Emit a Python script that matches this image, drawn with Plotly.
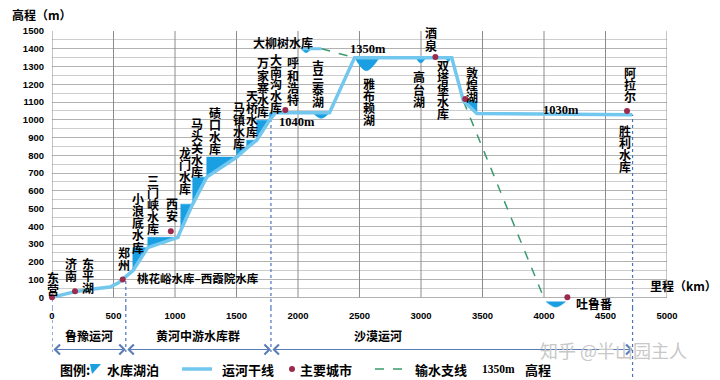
import plotly.graph_objects as go

# ---------------- data ----------------
canal_km = [0, 100, 187, 300, 400, 471, 540, 600, 657, 779, 1023, 1047, 1144, 1258, 1502,
            1583, 1664, 1769, 1818, 2256, 2460, 3250, 3345, 3455, 4716]
canal_elev = [0, 16, 32, 44, 52, 58, 82, 118, 150, 280, 338, 378, 525, 677, 790,
              840, 885, 998, 1040, 1040, 1350, 1350, 1105, 1035, 1028]

# reservoirs: dam position, bed level at dam, water level, tail position
res_dam_km = [657, 779, 1047, 1144, 1258, 1502, 1583, 1664, 1769, 3455]
res_base = [150, 280, 378, 525, 677, 790, 840, 885, 998, 1035]
res_water = [280, 338, 525, 677, 790, 840, 885, 998, 1040, 1105]
res_tail_km = [779, 1023, 1144, 1258, 1502, 1583, 1664, 1769, 1818, 3345]

# lakes (lens shapes)
lake_left = [2027, 2119, 2462, 2958, 3200, 4015]
lake_mid = [2065, 2189, 2554, 2998, 3222, 4095]
lake_right = [2108, 2256, 2662, 3040, 3245, 4178]
lake_top = [1400, 1040, 1350, 1350, 1350, -24]
lake_bottom = [1378, 1008, 1276, 1320, 1328, -55]

# short Daliushu segment and water-transfer branches
daliushu_km = [2027, 2190]
daliushu_elev = [1400, 1400]
branch1_km = [2190, 2460]
branch1_elev = [1400, 1350]
branch2_km = [3345, 4000]
branch2_elev = [1105, -5]

city_names = ['东营', '济南', '郑州', '西安', '呼和浩特', '酒泉', '敦煌', '阿拉尔', '吐鲁番']
city_km = [0, 187, 575, 966, 1897, 3117, 3360, 4675, 4190]
city_elev = [0, 34, 101, 372, 1055, 1354, 1117, 1050, 0]

# vertical (stacked) labels: text, km, elevation of first character
vlabel_text = ['东营', '济南', '东平湖', '郑州', '小浪底水库', '三门峡水库', '西安', '龙门水库',
               '马头关水库', '碛口水库', '马镇水库', '天桥水库', '万家寨水库', '大南沟水库',
               '呼和浩特', '吉兰泰湖', '雅布赖湖', '高台湖', '酒泉', '双塔堡水库', '敦煌湖',
               '阿拉尔', '胜利水库']
vlabel_km = [8, 154, 292, 584, 698, 820, 974, 1080, 1177, 1323, 1518, 1623, 1713, 1818,
             1956, 2159, 2581, 2987, 3084, 3182, 3417, 4700, 4659]
vlabel_elev = [113, 192, 192, 254, 558, 660, 530, 818, 981, 1043, 1072, 1139, 1320, 1342,
               1320, 1308, 1207, 1241, 1489, 1308, 1269, 1269, 942]

# horizontal labels
hlabel_text = ['桃花峪水库–西霞院水库', '大柳树水库', '吐鲁番']
hlabel_km = [674, 1875, 4245]
hlabel_elev = [107, 1433, -34]
hlabel_anchor = ['left', 'center', 'left']

level_text = ['1040m', '1350m', '1030m']
level_km = [1989, 2573, 4137]
level_elev = [985, 1397, 1053]

# canal sections
section_names = ['鲁豫运河', '黄河中游水库群', '沙漠运河']
section_bounds = [0, 600, 1780, 4720]
divider_top = [0, 140, 1040, 1030]

x_ticks = list(range(0, 5001, 500))
y_ticks = list(range(0, 1501, 100))
y_minor = list(range(50, 1500, 100))

# ---------------- style ----------------
CJK = 'Noto Sans CJK SC'
NUM = 'Liberation Sans'
SERIF = 'Liberation Serif'
CANAL = '#72c7ee'
WATER = '#1a9fe3'
CITY = '#9b2a4c'
BRANCH = '#3a9a6e'
DIV = '#4a72c0'
GRID_MAJ = '#b2b2b2'
GRID_MIN = '#cdcdcd'
GRID_V = '#8c8c8c'

W, H = 720, 380
ML, MR, MT, MB = 52, 53, 31, 72
PW, PH = W - ML - MR, H - MT - MB


def px_x(p):
    return (p - ML) / PW


def px_y(p):
    return (H - MB - p) / PH


fig = go.Figure()

# vertical grid lines (0..1500 only)
gx, gy = [], []
for t in x_ticks:
    gx += [t, t, None]
    gy += [0, 1500, None]
fig.add_trace(go.Scatter(x=gx, y=gy, mode='lines', line=dict(color=GRID_V, width=1),
                         hoverinfo='skip', showlegend=False))

# dividers inside plot
for k, top in zip(section_bounds, divider_top):
    fig.add_trace(go.Scatter(x=[k, k], y=[-60, top], mode='lines',
                             line=dict(color=DIV, width=1.2, dash='dot'),
                             hoverinfo='skip', showlegend=False))

# reservoirs
for d, b, w, t in zip(res_dam_km, res_base, res_water, res_tail_km):
    fig.add_trace(go.Scatter(x=[d, d, t, d], y=[b, w, w, b], mode='lines', fill='toself',
                             fillcolor=WATER, line=dict(color=WATER, width=0.5),
                             hoverinfo='skip', showlegend=False))

# lakes
for l, m, r, tp, bt in zip(lake_left, lake_mid, lake_right, lake_top, lake_bottom):
    fig.add_trace(go.Scatter(x=[l, m, r], y=[tp, bt, tp], mode='lines', fill='toself',
                             fillcolor=WATER, line=dict(color=WATER, width=0.5, shape='spline'),
                             hoverinfo='skip', showlegend=False))

# branches
for bx, by in [(branch1_km, branch1_elev), (branch2_km, branch2_elev)]:
    fig.add_trace(go.Scatter(x=bx, y=by, mode='lines',
                             line=dict(color=BRANCH, width=1.5, dash='dash'),
                             hoverinfo='skip', showlegend=False))

# canal main line
fig.add_trace(go.Scatter(x=daliushu_km, y=daliushu_elev, mode='lines',
                         line=dict(color=CANAL, width=3), hoverinfo='skip', showlegend=False))
fig.add_trace(go.Scatter(x=canal_km, y=canal_elev, mode='lines',
                         line=dict(color=CANAL, width=3.5), hoverinfo='skip', showlegend=False))

# cities
fig.add_trace(go.Scatter(x=city_km, y=city_elev, mode='markers', text=city_names,
                         marker=dict(color=CITY, size=6), cliponaxis=False,
                         hoverinfo='text', showlegend=False))

ann = []
lab_font = dict(family=CJK, size=12, color='black', weight='bold')

for txt, k, e in zip(vlabel_text, vlabel_km, vlabel_elev):
    for i, ch in enumerate(txt):
        ann.append(dict(x=k, y=e, xref='x', yref='y', text=ch, showarrow=False,
                        yshift=-i * 12.2, xanchor='center', yanchor='middle', font=lab_font))

for txt, k, e, a in zip(hlabel_text, hlabel_km, hlabel_elev, hlabel_anchor):
    ann.append(dict(x=k, y=e, xref='x', yref='y', text=txt, showarrow=False,
                    xanchor=a, yanchor='middle',
                    font=dict(family=CJK, size=11.5 if len(txt) > 6 else 12, color='black', weight='bold')))

for txt, k, e in zip(level_text, level_km, level_elev):
    ann.append(dict(x=k, y=e, xref='x', yref='y', text=txt, showarrow=False,
                    xanchor='center', yanchor='middle',
                    font=dict(family=SERIF, size=12.5, color='black', weight='bold')))

# axis titles
ann.append(dict(x=px_x(10), y=px_y(14), xref='paper', yref='paper', text='高程（m）',
                showarrow=False, xanchor='left', yanchor='middle', font=lab_font))
ann.append(dict(x=px_x(648), y=px_y(285), xref='paper', yref='paper', text='里程（km）',
                showarrow=False, xanchor='left', yanchor='middle', font=lab_font))

# section labels and brackets
shapes = []
for i, name in enumerate(section_names):
    a, b = section_bounds[i], section_bounds[i + 1]
    ann.append(dict(x=(a + b) / 2 if i < 2 else 2650, y=px_y(335), xref='x', yref='paper',
                    text=name, showarrow=False, xanchor='center', yanchor='middle', font=lab_font))
    ann.append(dict(x=b, y=px_y(349.5), xref='x', yref='paper', ax=a, ay=0,
                    axref='x', ayref='pixel', text='', showarrow=True,
                    arrowside='end+start', arrowhead=4, startarrowhead=4,
                    arrowsize=1.6, startarrowsize=1.6, arrowwidth=1.2, arrowcolor='#5b7db6',
                    standoff=0, startstandoff=0))

for k in section_bounds:
    shapes.append(dict(type='line', xref='x', yref='paper', x0=k, x1=k,
                       y0=0, y1=px_y(380 if k == section_bounds[-1] else 352),
                       line=dict(color=DIV, width=1.2, dash='dot')))

# legend
ly = px_y(369)
leg_font = dict(family=CJK, size=13, color='black', weight='bold')
for txt, p in [('图例:', 58), ('水库湖泊', 105), ('运河干线', 220), ('主要城市', 298),
               ('输水支线', 413), ('高程', 523)]:
    ann.append(dict(x=px_x(p), y=ly, xref='paper', yref='paper', text=txt, showarrow=False,
                    xanchor='left', yanchor='middle', font=leg_font))
ann.append(dict(x=px_x(480), y=ly, xref='paper', yref='paper', text='1350m', showarrow=False,
                xanchor='left', yanchor='middle',
                font=dict(family=SERIF, size=11.5, color='black', weight='bold')))

shapes.append(dict(type='path', xref='paper', yref='paper',
                   path=f'M {px_x(90)} {px_y(364)} L {px_x(101)} {px_y(364)} L {px_x(92)} {px_y(374)} Z',
                   fillcolor=WATER, line=dict(width=0)))
shapes.append(dict(type='line', xref='paper', yref='paper', x0=px_x(182), x1=px_x(212),
                   y0=ly, y1=ly, line=dict(color=CANAL, width=3.5)))
shapes.append(dict(type='circle', xref='paper', yref='paper', xsizemode='pixel',
                   ysizemode='pixel', xanchor=px_x(292), yanchor=ly, x0=-3, x1=3, y0=-3, y1=3,
                   fillcolor=CITY, line=dict(width=0)))
shapes.append(dict(type='line', xref='paper', yref='paper', x0=px_x(375), x1=px_x(407),
                   y0=ly, y1=ly, line=dict(color=BRANCH, width=1.5, dash='dash')))

# watermark
ann.append(dict(x=px_x(613), y=px_y(350), xref='paper', yref='paper', text='知乎 @半山园主人',
                showarrow=False, xanchor='center', yanchor='middle',
                font=dict(family=CJK, size=18, color='#c8c8c8')))

tick_font = dict(family=NUM, size=9.5, color='black', weight='bold')
fig.update_layout(
    width=W, height=H, margin=dict(l=ML, r=MR, t=MT, b=MB),
    plot_bgcolor='white', paper_bgcolor='white', showlegend=False,
    annotations=ann, shapes=shapes,
    xaxis=dict(range=[0, 5000], tickvals=x_ticks, showgrid=False, zeroline=False,
               showline=False, ticks='', tickfont=tick_font, automargin=False),
    yaxis=dict(range=[-60, 1500], tickvals=y_ticks, showgrid=True, gridcolor=GRID_MAJ,
               gridwidth=1, zeroline=False, showline=False, ticks='', ticklabelstandoff=7,
               tickfont=tick_font, automargin=False,
               minor=dict(tickvals=y_minor, showgrid=True, gridcolor=GRID_MIN, gridwidth=1)),
)

fig.write_html('out.html', config={'displayModeBar': False},
               post_script="document.body.style.margin='0px';document.body.style.overflow='hidden';")
